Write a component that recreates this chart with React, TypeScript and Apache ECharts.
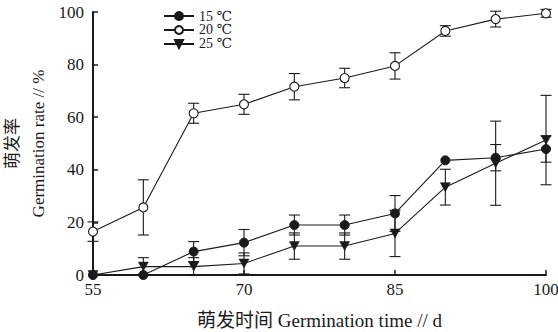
import React, { useEffect, useRef } from "react";
import * as echarts from "echarts";

const days = [55, 60, 65, 70, 75, 80, 85, 90, 95, 100];
const s15 = [0, 0, 8.9, 12.3, 19, 19, 23.4, 43.6, 44.6, 47.9];
const e15 = [0, 0, 3.8, 5, 3.8, 3.8, 6.8, 0, 5, 5];
const s20 = [16.5, 25.7, 61.5, 64.9, 71.6, 74.9, 79.5, 92.8, 97.3, 99.5];
const e20 = [3.7, 10.5, 3.8, 3.8, 5, 3.7, 5, 2, 3, 1.5];
const s25 = [0, 3.2, 3.2, 4.4, 11, 11, 15.8, 33.4, 42.5, 51.3];
const e25 = [0, 3.4, 3.4, 4, 5, 5, 8.8, 6.8, 16, 17];

const seriesNames = ["15 ℃", "20 ℃", "25 ℃"];
const xTicks = { min: 55, max: 100, interval: 15 };
const yTicks = { min: 0, max: 100, interval: 20 };

const FONT = "'Liberation Serif', 'DejaVu Serif', 'Noto Sans CJK SC', serif";
const INK = "#1a1a1a";

function errData(vals: number[], errs: number[]) {
  return days
    .map((d, i) => [d, vals[i] - errs[i], vals[i] + errs[i], errs[i]])
    .filter((r) => r[3] > 0);
}

function errSeries(vals: number[], errs: number[]) {
  return {
    type: "custom",
    silent: true,
    z: 1,
    encode: { x: 0, y: [1, 2] },
    data: errData(vals, errs),
    renderItem: (params: any, api: any) => {
      const x = api.value(0);
      const lo = api.value(1);
      const hi = api.value(2);
      const p1 = api.coord([x, hi]);
      const p2 = api.coord([x, lo]);
      const w = 5.5;
      const style = { stroke: INK, lineWidth: 1.1 };
      return {
        type: "group",
        children: [
          { type: "line", shape: { x1: p1[0], y1: p1[1], x2: p2[0], y2: p2[1] }, style },
          { type: "line", shape: { x1: p1[0] - w, y1: p1[1], x2: p1[0] + w, y2: p1[1] }, style },
          { type: "line", shape: { x1: p2[0] - w, y1: p2[1], x2: p2[0] + w, y2: p2[1] }, style },
        ],
      };
    },
  };
}

export default function App() {
  const ref = useRef<HTMLDivElement>(null);
  useEffect(() => {
    if (!ref.current) return;
    const chart = echarts.init(ref.current, undefined, { renderer: "svg" });
    const lineBase = {
      type: "line",
      z: 3,
      symbolSize: 9,
      lineStyle: { color: INK, width: 1.1 },
    };
    chart.setOption({
      animation: false,
      backgroundColor: "#fff",
      grid: { left: 93, right: 12, top: 12, bottom: 57, outerBoundsMode: "none", containLabel: false },
      legend: {
        orient: "vertical",
        left: 158,
        top: 4,
        itemWidth: 30,
        itemHeight: 10,
        itemGap: 0,
        data: seriesNames,
        textStyle: { fontFamily: FONT, fontSize: 14, color: INK, lineHeight: 13 },
      },
      xAxis: {
        type: "value",
        min: xTicks.min,
        max: xTicks.max,
        interval: xTicks.interval,
        name: "萌发时间 Germination time // d",
        nameLocation: "middle",
        nameGap: 36,
        nameMoveOverlap: false,
        nameTextStyle: { fontFamily: FONT, fontSize: 19, color: INK },
        axisLine: { show: true, lineStyle: { color: INK, width: 2 } },
        axisTick: { show: true, inside: true, length: 5, lineStyle: { color: INK, width: 1.5 } },
        axisLabel: { fontFamily: FONT, fontSize: 17, color: INK, margin: 6 },
        splitLine: { show: false },
      },
      yAxis: {
        type: "value",
        min: yTicks.min,
        max: yTicks.max,
        interval: yTicks.interval,
        name: "萌发率\nGermination rate // %",
        nameLocation: "middle",
        nameRotate: 90,
        nameGap: 42,
        nameMoveOverlap: false,
        nameTextStyle: { fontFamily: FONT, fontSize: 17, color: INK, lineHeight: 26 },
        axisLine: { show: true, lineStyle: { color: INK, width: 2 } },
        axisTick: { show: true, inside: true, length: 5, lineStyle: { color: INK, width: 1.5 } },
        axisLabel: { fontFamily: FONT, fontSize: 17, color: INK, margin: 9 },
        splitLine: { show: false },
      },
      series: [
        errSeries(s15, e15),
        errSeries(s20, e20),
        errSeries(s25, e25),
        {
          ...lineBase,
          name: seriesNames[0],
          symbol: "circle",
          itemStyle: { color: INK, borderColor: INK, borderWidth: 1 },
          data: days.map((d, i) => [d, s15[i]]),
        },
        {
          ...lineBase,
          name: seriesNames[1],
          symbol: "circle",
          itemStyle: { color: "#fff", borderColor: INK, borderWidth: 1.1 },
          data: days.map((d, i) => [d, s20[i]]),
        },
        {
          ...lineBase,
          name: seriesNames[2],
          symbol: "path://M0,0 L10,0 L5,9 Z",
          symbolSize: [10, 9],
          itemStyle: { color: INK, borderColor: INK, borderWidth: 0.5 },
          data: days.map((d, i) => [d, s25[i]]),
        },
      ],
    });
    return () => chart.dispose();
  }, []);
  return <div ref={ref} style={{ width: 558, height: 332, position: "absolute", left: 0, top: 0 }} />;
}
